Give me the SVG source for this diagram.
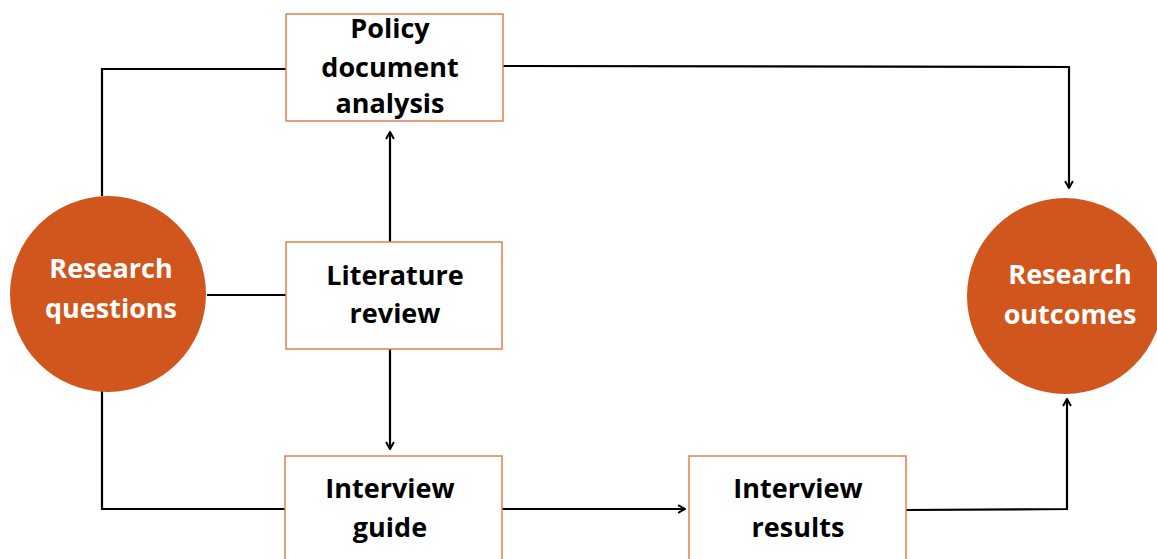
<svg xmlns="http://www.w3.org/2000/svg" width="1157" height="559" viewBox="0 0 1157 559">
<style>
.box{fill:#fff;stroke:#e2804e;stroke-width:1.5}
.circ{fill:#d1561d}
.t{font-family:"Open Sans","Liberation Sans",sans-serif;font-weight:700;font-size:27px;text-anchor:middle;fill:#000}
.tw{fill:#fff}
.c{fill:none;stroke:#000;stroke-width:2.2}
</style>
<defs>
<marker id="ah" viewBox="0 0 10 10" refX="9" refY="5" markerWidth="4.5" markerHeight="4.5" orient="auto" markerUnits="strokeWidth">
<polyline points="2,1 9,5 2,9" fill="none" stroke="#000" stroke-width="2"/>
</marker>
</defs>
<rect width="1157" height="559" fill="#fff"/>
<g id="connectors">
<polyline class="c" points="102,196 102,69 286,69"/>
<polyline class="c" points="503,66 1069,67 1069,188" marker-end="url(#ah)"/>
<line class="c" x1="390" y1="242" x2="390" y2="132" marker-end="url(#ah)"/>
<line class="c" x1="390" y1="349" x2="390" y2="449" marker-end="url(#ah)"/>
<line class="c" x1="207" y1="295" x2="286" y2="295"/>
<polyline class="c" points="102,391 102,509 285,509"/>
<line class="c" x1="502" y1="509" x2="685" y2="509" marker-end="url(#ah)"/>
<polyline class="c" points="906,510 1067,509 1067,399" marker-end="url(#ah)"/>
</g>
<g id="research-questions">
<circle class="circ" cx="108" cy="294" r="98"/>
<text class="t tw" x="111" y="278">Research</text>
<text class="t tw" x="111" y="318">questions</text>
</g>
<g id="research-outcomes">
<circle class="circ" cx="1065" cy="296" r="98"/>
<text class="t tw" x="1070" y="284">Research</text>
<text class="t tw" x="1070" y="324">outcomes</text>
</g>
<g id="policy">
<rect class="box" x="286" y="14" width="217" height="107"/>
<text class="t" x="390" y="38">Policy</text>
<text class="t" x="390" y="77">document</text>
<text class="t" x="390" y="113">analysis</text>
</g>
<g id="literature">
<rect class="box" x="286" y="242" width="216" height="107"/>
<text class="t" x="395" y="285">Literature</text>
<text class="t" x="395" y="323">review</text>
</g>
<g id="interview-guide">
<rect class="box" x="285" y="456" width="217" height="110"/>
<text class="t" x="390" y="498">Interview</text>
<text class="t" x="390" y="537">guide</text>
</g>
<g id="interview-results">
<rect class="box" x="689" y="456" width="217" height="110"/>
<text class="t" x="798" y="498">Interview</text>
<text class="t" x="798" y="537">results</text>
</g>
</svg>
